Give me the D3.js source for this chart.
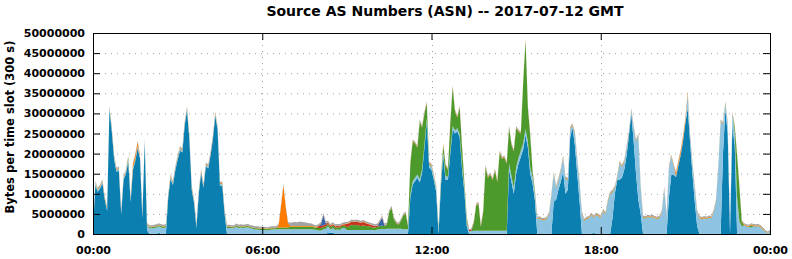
<!DOCTYPE html>
<html>
<head>
<meta charset="utf-8">
<script src="https://cdn.jsdelivr.net/npm/d3@7"></script>
<style>
  body { margin: 0; background: #fff; }
  text { font-family: "DejaVu Sans", sans-serif; font-weight: bold; }
</style>
</head>
<body>
<svg id="chart" width="792" height="259"></svg>
<script>
// 5-minute slots, values in millions of bytes per slot, one row per hour
const darkBlue = [
  1, 12.2, 10.5, 11.3, 12.6, 8.5, 5.8, 31, 25.5, 18.5, 15.5, 15.8,
  5, 13.5, 15, 18, 8, 16, 18.2, 21.4, 18.8, 4, 22.8, 1,
  0, 0, 0, 0, 0.3, 0, 0, 0, 9, 13.8, 12.2, 15.8,
  18.5, 20.8, 20.3, 27, 30.8, 23.5, 11, 7.7, 1.5, 10, 15.2, 11.5,
  16.8, 16.3, 19.5, 23.5, 29.5, 26, 12, 12, 5, 0, 0, 0,
  0, 0, 0, 0, 0, 0, 0, 0, 0, 0, 0, 0,
  0, 0, 0, 0, 0, 0, 0, 0, 0, 0, 0, 0,
  0, 0, 0, 0, 0, 0, 0, 0, 0, 0, 0, 0,
  0, 0, 0, 0, 0.3, 0.3, 0.3, 0, 0, 0, 0, 0,
  0, 0, 0, 0, 0, 0, 0, 0, 0, 0, 0, 0,
  0, 0, 0, 0, 0, 0, 0, 0, 0, 0, 0, 0,
  0, 0, 0, 9, 12.3, 13.2, 14, 12.8, 15.3, 21.5, 28, 16.5,
  16, 13.5, 10.5, 0, 12, 19.5, 13.5, 13.5, 20, 26, 25, 25.5,
  24, 16, 10.5, 2, 0, 0, 0, 0, 0, 0, 0, 0,
  0, 0, 0, 0, 0, 0, 0, 0, 0, 16, 13, 10,
  15, 17.5, 19.2, 21, 24.6, 21.5, 15, 12.6, 8.4, 0, 0, 0,
  0, 0, 0, 0, 8, 8.5, 11, 13, 15.5, 10, 11, 24,
  26.5, 22, 15, 8, 0, 0, 0, 0, 0, 0.3, 0, 0,
  0, 0, 0, 0, 0, 4, 10, 13.4, 13.5, 14, 16, 19.5,
  24.5, 30, 23, 15, 8.5, 5, 0, 0, 0, 0, 0, 0,
  0, 0, 0, 0, 0, 9, 14.7, 14.8, 14.1, 16.9, 19.6, 23.1,
  27.6, 31.3, 23, 15, 8, 2, 0, 0, 0, 0, 0, 0,
  0, 0, 0, 0, 20, 31, 25, 0, 27, 22, 0, 0,
  0, 0, 0, 0, 0, 0, 0, 0, 0, 0, 0, 0,
  0
];
const lightBlue = [
  0.5, 0.4, 0.4, 0.4, 0.4, 0.4, 0.4, 0.4, 0.4, 0.4, 0.4, 0.4,
  0.4, 0.4, 0.4, 0.4, 0.4, 0.4, 0.4, 0.4, 0.4, 0.4, 0.4, 1.2,
  1.4, 1.4, 1.5, 1.6, 1.6, 1.6, 1.5, 1.7, 0.4, 0.4, 0.4, 0.4,
  0.4, 0.4, 0.4, 0.4, 0.4, 0.4, 0.4, 0.4, 0.4, 0.4, 0.4, 0.4,
  0.4, 0.4, 0.4, 0.4, 0.4, 0.4, 0.4, 0.4, 0.4, 1.5, 1.5, 1.4,
  1.4, 1.8, 1.5, 1.6, 1.5, 1.6, 1.7, 1.4, 1.3, 1.1, 1.1, 1.0,
  1.0, 1.0, 0.9, 1.0, 1.1, 1.1, 1.2, 1.2, 1.2, 1.2, 1.2, 1.2,
  1.2, 1.2, 1.2, 1.2, 1.2, 1.2, 1.2, 1.2, 1.2, 1.2, 1.1, 1.0,
  0.9, 0.9, 1.1, 1.3, 1.6, 0.8, 1.2, 1.0, 1.1, 1.0, 1.4, 1.5,
  1.0, 1.0, 1.0, 1.0, 1.0, 1.0, 1.0, 1.0, 1.0, 1.0, 1.0, 1.0,
  0.9, 1.1, 1.2, 1.3, 1.2, 1.3, 1.3, 1.3, 1.3, 1.3, 1.3, 1.3,
  1.2, 1.2, 1.2, 0.8, 0.8, 0.8, 0.8, 0.8, 0.8, 0.8, 0.8, 0.8,
  0.8, 0.8, 0.8, 1.0, 0.8, 0.8, 0.8, 0.8, 0.8, 0.8, 0.8, 0.8,
  0.8, 0.8, 0.8, 0.8, 0.7, 0.7, 0.8, 0.8, 0.8, 0.8, 0.8, 0.8,
  0.8, 0.8, 0.8, 0.8, 0.8, 0.8, 0.8, 0.8, 0.8, 1.5, 1.5, 1.5,
  1.5, 1.5, 1.5, 1.5, 1.5, 1.5, 1.5, 1.5, 1.5, 3.7, 3.8, 3.4,
  3.4, 3.7, 4.9, 9.4, 6.9, 2.9, 2.4, 2.7, 3.4, 3.7, 2.4, 2.1,
  0.4, 2.9, 3.4, 4.4, 4.9, 3.2, 3.7, 3.9, 4.7, 3.7, 4.7, 4.4,
  4.0, 5.6, 4.9, 7.9, 9.9, 6.4, 1.4, 0.5, 4.1, 2.6, 1.9, 1.9,
  0.4, 0.7, 3.4, 7.9, 15.9, 6.4, 4.0, 3.8, 4.2, 4.0, 4.2, 3.9,
  3.7, 4.0, 5.4, 11.2, 4.4, 7.4, 4.5, 2.1, 0.2, 0.2, 0.2, 0.2,
  0.2, 3.3, 1.4, 2.4, 3.4, 3.4, 3.9, 3.6, 3.9, 3.7, 4.0, 3.9,
  5.4, 7.9, 16.4, 27.9, 7.2, 1.4, 2.4, 1.4, 2.9, 3.0, 9.1, 3.1,
  1.9, 2.1, 1.8, 1.7, 1.6, 1.9, 1.8, 1.9, 1.6, 1.0, 0.5, 0.2,
  0.5
];
const green = [
  0.1, 0.1, 0.1, 0.1, 0.1, 0.1, 0.1, 0.1, 0.1, 0.1, 0.1, 0.1,
  0.1, 0.1, 0.1, 0.6, 0.1, 0.1, 0.1, 0.1, 0.1, 0.1, 0.1, 0.1,
  0.3, 0.3, 0.3, 0.3, 0.3, 0.3, 0.3, 0.3, 0.1, 0.1, 0.1, 0.1,
  0.1, 0.1, 0.1, 0.1, 0.1, 0.1, 0.1, 0.1, 0.1, 0.1, 0.1, 0.1,
  0.1, 0.1, 0.1, 0.1, 0.1, 0.1, 0.1, 0.1, 0.1, 0.3, 0.3, 0.3,
  0.3, 0.3, 0.3, 0.3, 0.3, 0.3, 0.3, 0.3, 0.3, 0.3, 0.3, 0.3,
  0.3, 0.3, 0.3, 0.3, 0.3, 0.3, 0.3, 0.4, 0.4, 0.4, 0.4, 0.4,
  0.6, 0.6, 0.6, 0.6, 0.6, 0.6, 0.6, 0.6, 0.6, 0.6, 0.6, 0.6,
  0.6, 0.6, 0.6, 0.6, 0.6, 0.6, 0.6, 0.6, 0.6, 0.6, 0.6, 0.6,
  0.7, 0.9, 1.3, 1.2, 1.3, 1.1, 1.0, 1.2, 0.9, 1.0, 0.8, 0.6,
  0.7, 0.7, 0.8, 0.8, 0.7, 1.0, 4.2, 5.2, 2.4, 1.4, 1.0, 2.0,
  3.4, 3.9, 0.8, 7.7, 9.9, 8.5, 6.7, 14.4, 10.4, 7.7, 3.7, 0.2,
  0.2, 0.2, 0.2, 0.3, 0.7, 1.8, 2.7, 1.7, 6.7, 9.7, 4.7, 2.7,
  6.7, 4.7, 1.2, 1.0, 0, 0.1, 2.0, 6.3, 6.7, 1.0, 4.7, 15.9,
  13.2, 14.0, 12.6, 15.0, 12.1, 19.5, 17.9, 18.2, 16.7, 9, 7.8, 9,
  9.8, 6.5, 4.3, 15, 22.1, 8.5, 8, 1.4, 0.6, 0.1, 0.1, 0.1,
  0.1, 0.1, 0.1, 0.1, 0.1, 0.1, 0.1, 0.1, 0.1, 0.1, 0.1, 0.1,
  0.1, 0.1, 0.1, 0.1, 0.1, 0.1, 0.1, 0.1, 0.1, 0.1, 0.1, 0.1,
  0.1, 0.1, 0.1, 0.1, 0.1, 0.1, 0.1, 0.1, 0.1, 0.1, 0.1, 0.1,
  0.1, 0.1, 0.1, 0.1, 0.1, 0.1, 0.1, 0.1, 0.1, 0.1, 0.1, 0.1,
  0.1, 0.1, 0.1, 0.1, 0.1, 0.1, 0.1, 0.1, 0.1, 0.1, 0.1, 0.1,
  0.1, 0.1, 0.1, 0.1, 0.1, 0.1, 0.1, 0.1, 0.1, 0.1, 0.1, 0.1,
  0.1, 0.1, 0.1, 0.1, 0.1, 0.1, 0.1, 0.1, 0.1, 1.5, 10.4, 8.4,
  1.1, 0.1, 0.1, 0.1, 0.6, 0.1, 0.1, 0.1, 0.1, 0.1, 0.1, 0,
  0.1
];
const red = [
  0, 0, 0, 0, 0, 0, 0, 0, 0, 0, 0, 0,
  0, 0, 0, 0, 0, 0, 0, 0, 0, 0, 0, 0,
  0, 0, 0, 0, 0, 0, 0, 0, 0, 0, 0, 0,
  0, 0, 0, 0, 0, 0, 0, 0, 0, 0, 0, 0,
  0, 0, 0, 0, 0, 0, 0, 0, 0, 0, 0, 0,
  0, 0, 0, 0, 0, 0, 0, 0, 0, 0, 0, 0,
  0, 0, 0, 0, 0, 0, 0, 0, 0, 0, 0, 0,
  0, 0, 0, 0, 0, 0, 0, 0, 0, 0, 0, 0,
  0.5, 0.5, 0.5, 0.5, 0.3, 0.3, 0.3, 0.3, 0.3, 0.3, 0.3, 0.3,
  0.8, 0.8, 0.8, 0.8, 0.8, 0.8, 0.8, 0.8, 0.8, 0.5, 0.5, 0.5,
  0.3, 0.3, 0, 0, 0, 0, 0, 0, 0, 0, 0, 0,
  0, 0, 0, 0, 0, 0, 0, 0, 0, 0, 0, 0,
  0, 0, 0, 0, 0, 0, 0, 0, 0, 0, 0, 0,
  0, 0, 0, 0, 0.3, 0.3, 0, 0, 0, 0, 0, 0,
  0, 0, 0, 0, 0, 0, 0, 0, 0, 0, 0, 0,
  0, 0, 0, 0, 0, 0, 0, 0, 0, 0, 0, 0,
  0, 0, 0, 0, 0, 0, 0, 0, 0, 0, 0, 0,
  0, 0, 0, 0, 0, 0, 0, 0, 0, 0, 0, 0,
  0, 0, 0, 0, 0, 0, 0, 0, 0, 0, 0, 0,
  0, 0, 0, 0, 0, 0, 0, 0, 0, 0, 0, 0,
  0, 0, 0, 0, 0, 0, 0, 0, 0, 0, 0, 0,
  0, 0, 0, 0, 0, 0, 0, 0, 0, 0, 0, 0,
  0, 0, 0, 0, 0, 0, 0, 0, 0, 0, 0, 0,
  0, 0, 0, 0, 0, 0, 0, 0, 0, 0, 0, 0,
  0
];
const navy = [
  0, 0, 0, 0, 0, 0, 0, 0, 0, 0, 0, 0,
  0, 0, 0, 0, 0, 0, 0, 0, 0, 0, 0, 0,
  0, 0, 0, 0, 0, 0, 0, 0, 0, 0, 0, 0,
  0, 0, 0, 0, 0, 0, 0, 0, 0, 0, 0, 0,
  0, 0, 0, 0, 0, 0, 0, 0, 0, 0, 0, 0,
  0, 0, 0, 0, 0, 0, 0, 0, 0, 0, 0, 0,
  0, 0, 0, 0, 0, 0, 0, 0, 0, 0, 0, 0,
  0, 0, 0, 0, 0, 0, 0, 0, 0, 0, 0, 0,
  0, 0.5, 2.5, 0.3, 0, 0, 0, 0, 0, 0, 0, 0,
  0, 0, 0, 0, 0, 0, 0, 0, 0, 0, 0, 0,
  0, 0, 1.0, 2.0, 0.2, 0, 0, 0, 0, 0, 0, 0,
  0, 0, 0, 0, 0, 0, 0, 0, 0, 0, 0, 0,
  0, 0, 0, 0, 0, 0, 0, 0, 0, 0, 0, 0,
  0, 0, 0, 0, 0, 0, 0, 0, 0, 0, 0, 0,
  0, 0, 0, 0, 0, 0, 0, 0, 0, 0, 0, 0,
  0, 0, 0, 0, 0, 0, 0, 0, 0, 0, 0, 0,
  0, 0, 0, 0, 0, 0, 0, 0, 0, 0, 0, 0,
  0, 0, 0, 0, 0, 0, 0, 0, 0, 0, 0, 0,
  0, 0, 0, 0, 0, 0, 0, 0, 0, 0, 0, 0,
  0, 0, 0, 0, 0, 0, 0, 0, 0, 0, 0, 0,
  0, 0, 0, 0, 0, 0, 0, 0, 0, 0, 0, 0,
  0, 0, 0, 0, 0, 0, 0, 0, 0, 0, 0, 0,
  0, 0, 0, 0, 0, 0, 0, 0, 0, 0, 0, 0,
  0, 0, 0, 0, 0, 0, 0, 0, 0, 0, 0, 0,
  0
];
const orange = [
  0.2, 0.2, 0.2, 0.2, 0.2, 0.2, 0.2, 0.2, 0.2, 0.2, 0.2, 0.2,
  0.2, 0.2, 0.2, 0.2, 0.2, 1.0, 1.0, 1.0, 0.2, 0.2, 0.2, 0.2,
  0.1, 0.1, 0.1, 0.1, 0.1, 0.1, 0.1, 0.1, 0.2, 0.2, 0.2, 0.2,
  0.2, 0.2, 0.2, 0.2, 0.2, 0.2, 0.2, 0.2, 0.2, 0.2, 0.2, 0.2,
  0.2, 0.2, 0.2, 0.2, 0.2, 0.2, 0.2, 0.2, 0.2, 0.1, 0.1, 0.1,
  0.1, 0.1, 0.1, 0.1, 0.1, 0.1, 0.1, 0.1, 0.1, 0.1, 0.1, 0.1,
  0.1, 0.1, 0.1, 0.1, 0.1, 0.1, 0.1, 0.6, 5.5, 10.5, 5.0, 1.0,
  0.2, 0.2, 0.2, 0.2, 0.2, 0.2, 0.2, 0.2, 0.2, 0.2, 0.2, 0.2,
  0.1, 0.1, 0.1, 0.1, 0.1, 0.1, 0.1, 0.1, 0.1, 0.1, 0.1, 0.1,
  0.1, 0.1, 0.1, 0.1, 0.1, 0.1, 0.1, 0.1, 0.1, 0.1, 0.1, 0.1,
  0.1, 0.1, 0.1, 0.1, 0.1, 0.1, 0.1, 0.1, 0.1, 0.1, 0.1, 0.1,
  0.1, 0.1, 0.1, 0.2, 0.2, 0.2, 0.2, 0.2, 0.2, 0.2, 0.2, 0.2,
  0.2, 0.2, 0.2, 0.2, 0.2, 0.2, 0.2, 0.2, 0.2, 0.2, 0.2, 0.2,
  0.2, 0.2, 0.2, 0.2, 0, 0, 0.2, 0.2, 0.2, 0.2, 0.2, 0.2,
  0.2, 0.2, 0.2, 0.2, 0.2, 0.2, 0.2, 0.2, 0.2, 0.2, 0.2, 0.2,
  0.2, 0.2, 0.2, 0.2, 0.2, 0.2, 0.2, 0.2, 0.2, 0.2, 0.2, 0.2,
  0.2, 0.2, 0.2, 0.2, 0.2, 0.2, 0.2, 0.2, 0.2, 0.2, 0.2, 0.2,
  0.2, 0.2, 0.2, 0.2, 0.2, 0.2, 0.2, 0.2, 0.2, 0.2, 0.2, 0.2,
  0.2, 0.2, 0.2, 0.2, 0.2, 0.2, 0.2, 0.2, 0.2, 0.2, 0.2, 0.2,
  0.2, 0.2, 0.2, 0.2, 0.2, 0.2, 0.2, 0.2, 0.2, 0.2, 0.2, 0.2,
  0.2, 0.2, 0.2, 0.2, 0.2, 0.2, 0.2, 0.2, 0.8, 0.8, 0.8, 0.8,
  0.8, 0.5, 0.2, 0.2, 0.2, 0.2, 0.2, 0.2, 0.2, 0.2, 0.2, 0.2,
  0.2, 0.2, 0.2, 0.2, 0.2, 0.2, 0.2, 0.2, 0.2, 0.2, 0.2, 0.2,
  0.2, 0.2, 0.2, 0.2, 0.2, 0.2, 0.2, 0.2, 0.2, 0.2, 0.1, 0.1,
  0.1
];
const gray = [
  0.3, 0.3, 0.3, 0.3, 0.3, 0.3, 0.3, 0.3, 0.3, 0.3, 0.3, 0.3,
  0.3, 0.3, 0.3, 0.3, 0.3, 0.3, 0.3, 0.3, 0.3, 0.3, 0.3, 0.3,
  0.4, 0.4, 0.4, 0.4, 0.4, 0.4, 0.4, 0.4, 0.3, 0.3, 0.3, 0.3,
  0.3, 0.3, 0.3, 0.3, 0.3, 0.3, 0.3, 0.3, 0.3, 0.3, 0.3, 0.3,
  0.3, 0.3, 0.3, 0.3, 0.3, 0.3, 0.3, 0.3, 0.3, 0.4, 0.4, 0.4,
  0.4, 0.4, 0.4, 0.4, 0.4, 0.4, 0.4, 0.4, 0.4, 0.4, 0.4, 0.4,
  0.4, 0.4, 0.4, 0.4, 0.4, 0.4, 0.4, 0.4, 0.4, 0.4, 0.4, 0.4,
  0.8, 0.9, 1.0, 0.9, 1.1, 1.0, 0.9, 0.8, 0.7, 0.6, 0.4, 0.4,
  0.4, 0.4, 0.4, 0.4, 0.4, 0.4, 0.4, 0.4, 0.4, 0.4, 0.4, 0.4,
  0.4, 0.4, 0.4, 0.4, 0.4, 0.4, 0.4, 0.4, 0.4, 0.4, 0.4, 0.4,
  0.4, 0.4, 0.4, 0.4, 0.4, 0.4, 0.4, 0.4, 0.4, 0.4, 0.4, 0.4,
  0.4, 0.4, 0.4, 0.3, 0.3, 0.3, 0.3, 0.3, 0.3, 0.3, 0.3, 0.3,
  0.3, 0.3, 0.3, 0.3, 0.3, 0.3, 0.3, 0.3, 0.3, 0.3, 0.3, 0.3,
  0.3, 0.3, 0.3, 0.3, 0.2, 0.3, 0.3, 0.3, 0.3, 0.3, 0.3, 0.3,
  0.3, 0.3, 0.3, 0.3, 0.3, 0.3, 0.3, 0.3, 0.3, 0.3, 0.3, 0.3,
  0.3, 0.3, 0.3, 0.3, 0.3, 0.3, 0.3, 0.3, 0.3, 0.3, 0.3, 0.3,
  0.3, 0.3, 0.3, 0.3, 0.3, 0.3, 0.3, 0.3, 0.3, 0.3, 0.3, 0.3,
  0.3, 0.3, 0.3, 0.3, 0.3, 0.3, 0.3, 0.3, 0.3, 0.3, 0.3, 0.3,
  0.3, 0.3, 0.3, 0.3, 0.3, 0.3, 0.3, 0.3, 0.3, 0.3, 0.3, 0.3,
  0.3, 0.3, 0.3, 0.3, 0.3, 0.3, 0.3, 0.3, 0.3, 0.3, 0.3, 0.3,
  0.3, 0.3, 0.3, 0.3, 0.3, 0.3, 0.3, 0.3, 0.3, 0.3, 0.3, 0.3,
  0.3, 0.3, 0.3, 0.3, 0.3, 0.3, 0.3, 0.3, 0.3, 0.3, 0.3, 0.3,
  0.3, 0.3, 0.3, 0.3, 0.3, 0.3, 0.3, 0.3, 0.3, 0.3, 0.3, 0.3,
  0.3, 0.3, 0.3, 0.3, 0.3, 0.3, 0.3, 0.3, 0.3, 0.3, 0.3, 0.3,
  0.3
];

const seriesNames = ["darkBlue", "lightBlue", "green", "red", "navy", "orange", "gray"];
const seriesValues = [darkBlue, lightBlue, green, red, navy, orange, gray];
const seriesColors = ["#0a7fb0", "#8ec4e2", "#4c9a2c", "#c6341f", "#3762ad", "#ff7b00", "#a3a3a3"];

const xTickHours = [0, 6, 12, 18, 24];
const xTickLabels = ["00:00", "06:00", "12:00", "18:00", "00:00"];
const yTicks = [0, 5, 10, 15, 20, 25, 30, 35, 40, 45, 50];   // millions

const svg = d3.select("#chart");
const margin = { left: 93, right: 22, top: 33, bottom: 25 };
const W = 792, H = 259;

const x = d3.scaleLinear().domain([0, 24]).range([margin.left, W - margin.right]);
const y = d3.scaleLinear().domain([0, 50]).range([H - margin.bottom, margin.top]);

// rows of the table for the stack
const rows = darkBlue.map((_, i) => {
  const r = { hour: i / 12 };
  seriesNames.forEach((k, j) => { r[k] = seriesValues[j][i]; });
  return r;
});
const stacked = d3.stack().keys(seriesNames)(rows);

// grid
const grid = svg.append("g").attr("stroke", "#a0a0a0").attr("stroke-dasharray", "1,5");
grid.selectAll("line.h").data(yTicks.filter(d => d > 0 && d < 50)).enter()
  .append("line")
  .attr("x1", x(0)).attr("x2", x(24))
  .attr("y1", d => y(d) + 0.5).attr("y2", d => y(d) + 0.5);
grid.selectAll("line.v").data(xTickHours.filter(d => d > 0 && d < 24)).enter()
  .append("line")
  .attr("y1", y(50)).attr("y2", y(0))
  .attr("x1", d => Math.round(x(d)) + 0.5).attr("x2", d => Math.round(x(d)) + 0.5);

// stacked areas
const area = d3.area()
  .x(d => x(d.data.hour))
  .y0(d => y(d[0]))
  .y1(d => y(d[1]));

svg.append("g").selectAll("path")
  .data(stacked)
  .enter().append("path")
  .attr("d", area)
  .attr("fill", (d, i) => seriesColors[i]);

// axes, ticks inward
const yAxisL = d3.axisLeft(y).tickValues(yTicks).tickSize(-7).tickPadding(8)
  .tickFormat(d => d3.format("d")(d * 1000000));
svg.append("g").attr("transform", `translate(${margin.left},0)`).call(yAxisL)
  .call(g => g.select(".domain").remove())
  .call(g => g.selectAll("text").attr("font-size", 11).attr("font-family", "DejaVu Sans").attr("font-weight", "bold").attr("fill", "#000"));

const yAxisR = d3.axisRight(y).tickValues(yTicks).tickSize(-7).tickFormat("");
svg.append("g").attr("transform", `translate(${W - margin.right},0)`).call(yAxisR)
  .call(g => g.select(".domain").remove());

const xAxisB = d3.axisBottom(x).tickValues(xTickHours).tickSize(-7).tickPadding(12)
  .tickFormat((d, i) => xTickLabels[i]);
svg.append("g").attr("transform", `translate(0,${H - margin.bottom})`).call(xAxisB)
  .call(g => g.select(".domain").remove())
  .call(g => g.selectAll("text").attr("font-size", 11).attr("font-family", "DejaVu Sans").attr("font-weight", "bold").attr("fill", "#000"));

const xAxisT = d3.axisTop(x).tickValues(xTickHours).tickSize(-7).tickFormat("");
svg.append("g").attr("transform", `translate(0,${margin.top})`).call(xAxisT)
  .call(g => g.select(".domain").remove());

// frame
svg.append("rect")
  .attr("x", x(0) + 0.5).attr("y", y(50) + 0.5)
  .attr("width", x(24) - x(0)).attr("height", y(0) - y(50))
  .attr("fill", "none").attr("stroke", "#000");

// title and y label
svg.append("text")
  .attr("x", 445).attr("y", 16)
  .attr("text-anchor", "middle").attr("font-size", 14)
  .text("Source AS Numbers (ASN) -- 2017-07-12 GMT");

svg.append("text")
  .attr("transform", "translate(14,127) rotate(-90)")
  .attr("text-anchor", "middle").attr("font-size", 11.5)
  .text("Bytes per time slot (300 s)");
</script>
</body>
</html>
